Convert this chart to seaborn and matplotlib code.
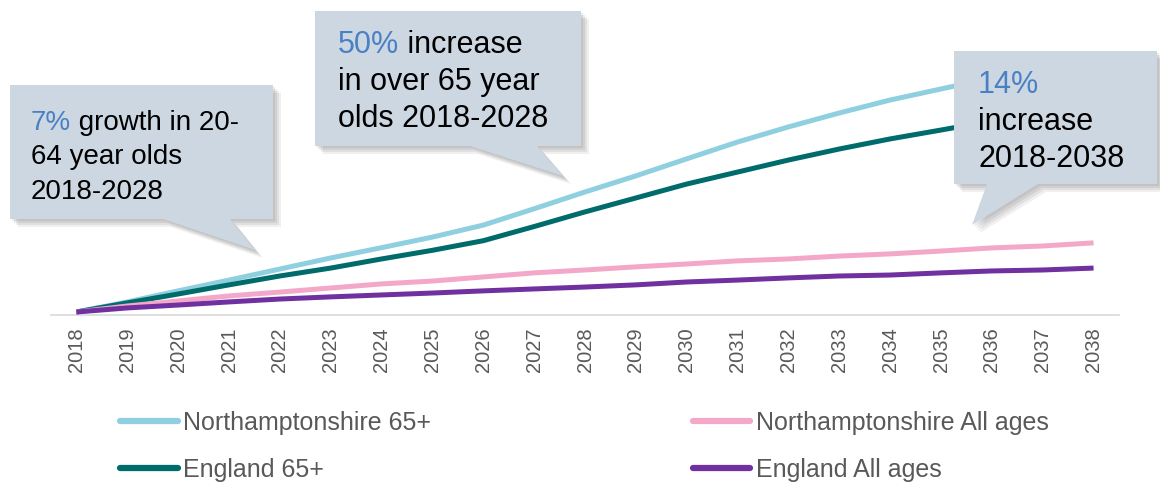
import matplotlib.pyplot as plt
import pandas as pd
import seaborn as sns
from matplotlib.lines import Line2D
from matplotlib.patches import Polygon

# growth index since 2018 (no axis shown)
years = list(range(2018, 2039))
northants_65 = [0, 4.2, 8.8, 13.3, 17.9, 22.5, 26.8, 31.2, 36.2, 43.0, 50.0,
                56.7, 63.8, 70.8, 77.1, 82.9, 88.3, 92.9, 97.5, 102.1, 106.3]
england_65 = [0, 3.8, 7.5, 11.3, 15.0, 18.3, 22.1, 25.7, 29.7, 35.6, 41.7,
              47.5, 53.3, 58.3, 63.3, 67.9, 72.1, 75.8, 79.6, 83.3, 86.7]
northants_all = [0, 2.5, 4.6, 6.7, 8.3, 10.0, 11.7, 12.9, 14.6, 16.3, 17.5,
                 18.8, 20.0, 21.3, 22.1, 23.3, 24.2, 25.4, 26.7, 27.5, 28.8]
england_all = [0, 1.7, 2.9, 4.2, 5.4, 6.3, 7.1, 7.9, 8.8, 9.6, 10.4,
               11.3, 12.5, 13.3, 14.2, 15.0, 15.4, 16.3, 17.1, 17.5, 18.3]

series = {
    'Northamptonshire 65+': northants_65,
    'England 65+': england_65,
    'Northamptonshire All ages': northants_all,
    'England All ages': england_all,
}
colors = {
    'Northamptonshire 65+': '#8ecfe0',
    'England 65+': '#006b6b',
    'Northamptonshire All ages': '#f3a8c9',
    'England All ages': '#7030a0',
}

df = pd.concat([pd.DataFrame({'Year': years, 'Growth': v, 'Series': k})
                for k, v in series.items()], ignore_index=True)

sns.set_style('white')
plt.rcParams['font.family'] = ['Liberation Sans', 'DejaVu Sans']

W, H = 1160, 482
fig = plt.figure(figsize=(W / 100, H / 100), dpi=100)
ax = fig.add_axes([51 / W, (H - 315) / H, (1119 - 51) / W, (315 - 10) / H])

sns.lineplot(data=df, x='Year', y='Growth', hue='Series', palette=colors,
             linewidth=3.6, ax=ax, legend=False, solid_capstyle='butt')

ax.set_xlim(2017.5, 2038.5)
ax.set_ylim(-1.25, 125.8)
ax.set_xticks(years)
ax.set_xticklabels([str(y) for y in years], rotation=90, fontsize=14.5,
                   color='#595959')
ax.set_yticks([])
ax.tick_params(axis='x', length=0, pad=9)
ax.set_xlabel('')
ax.set_ylabel('')
for s in ['top', 'left', 'right']:
    ax.spines[s].set_visible(False)
ax.spines['bottom'].set_color('#d9d9d9')
ax.spines['bottom'].set_linewidth(1.2)
ax.spines['bottom'].set_zorder(0)


def fx(x, y):
    return (x / W, 1 - y / H)


# legend: two separate columns
names = list(series)
for col, (x0, pair) in enumerate([(120, names[:2]), (693, names[2:])]):
    handles = [Line2D([], [], color=colors[n], linewidth=4.5) for n in pair]
    leg = fig.legend(handles, pair, loc='upper left', bbox_to_anchor=fx(x0, 411),
                     frameon=False, fontsize=18, handlelength=2.3,
                     handletextpad=0.22, labelspacing=0.92, borderpad=0,
                     borderaxespad=0)
    for t in leg.get_texts():
        t.set_color('#595959')

# callouts
boxes = [
    [(10, 85), (273, 85), (273, 219), (230, 219), (255, 250), (163, 219), (10, 219)],
    [(315, 11), (581, 11), (581, 146), (537, 146), (563, 176), (470, 146), (315, 146)],
    [(954, 51), (1157, 51), (1157, 184), (1038, 184), (972, 225), (987, 184), (954, 184)],
]
for pts in boxes:
    for off, a in [(2, 0.13), (4, 0.13), (6, 0.12), (8, 0.10)]:
        sh = Polygon([fx(x + off, y + off) for x, y in pts], closed=True,
                     transform=fig.transFigure, facecolor='#6f6f6f', alpha=a,
                     edgecolor='none', zorder=4)
        fig.add_artist(sh)
    fig.add_artist(Polygon([fx(x, y) for x, y in pts], closed=True,
                           transform=fig.transFigure, facecolor='#cdd7e1',
                           edgecolor='none', zorder=5))

blue = '#4a80c4'
callouts = [
    # (x, first baseline, line step, size, pct, rest of line 1, other lines)
    (31, 130, 34.5, 20, '7%', ' growth in 20-', ['64 year olds', '2018-2028']),
    (338, 53, 37, 22, '50%', ' increase', ['in over 65 year', 'olds 2018-2028']),
    (978, 93, 37, 22, '14%', '', ['increase', '2018-2038']),
]
for x, y, step, size, pct, rest, lines in callouts:
    t = fig.text(*fx(x, y), pct, color=blue, fontsize=size, va='baseline',
                 zorder=6)
    if rest:
        fig.add_artist(plt.Annotation(rest, xy=(1, 0), xycoords=t, va='bottom',
                                      ha='left', fontsize=size, color='black',
                                      zorder=6))
    for i, line in enumerate(lines):
        fig.text(*fx(x, y + step * (i + 1)), line, color='black', fontsize=size,
                 va='baseline', zorder=6)

fig.savefig('out.png', dpi=100)
